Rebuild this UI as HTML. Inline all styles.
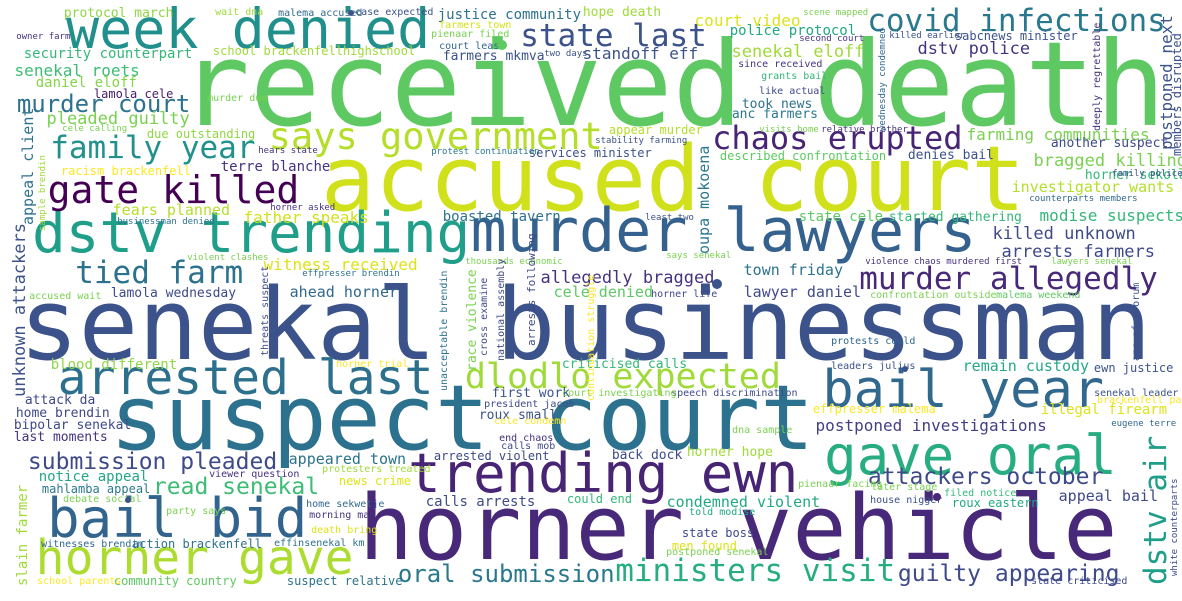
<!DOCTYPE html>
<html><head><meta charset="utf-8"><style>
html,body{margin:0;padding:0;background:#fff;}
#cloud{position:relative;width:1182px;height:601px;overflow:hidden;background:#fff;font-family:"DejaVu Sans Mono","Liberation Mono",monospace;}
#cloud span{position:absolute;white-space:pre;line-height:1;}
#cloud i{position:absolute;border-radius:50%;}
</style></head><body>
<div id="cloud"></div>
<script>
const words=[
"received death","accused court","senekal businessman","suspect court","horner vehicle","week denied","covid infections","murder lawyers","dstv trending","bail year",
"gave oral","trending ewn","bail bid","horner gave","says government","arrested last","gate killed","family year","dlodlo expected","murder allegedly",
"chaos erupted","state last","ministers visit","tied farm","oral submission","murder court","attackers october","guilty appearing","submission pleaded","read senekal",
"senekal roets","pleaded guilty","security counterpart","school brackenfellhighschool","justice community","daniel eloff","due outstanding","terre blanche","fears planned","father speaks",
"witness received","boasted tavern","allegedly bragged","ahead horner","cele denied","lamola cele","racism brackenfell","court video","senekal eloff","dstv police",
"farming communities","bragged killing","investigator wants","modise suspects","killed unknown","arrests farmers","town friday","lawyer daniel","remain custody","postponed investigations",
"illegal firearm","blood different","attack da","home brendin","bipolar senekal","last moments","appeared town","notice appeal","mahlamba appeal","action brackenfell",
"community country","suspect relative","condemned violent","appeal bail","roux eastern","calls arrests","could end","arrested violent","back dock","horner hope",
"state boss","men found","criticised calls","first work","roux small","speech discrimination","protocol march","hope death","farmers mkmva","standoff eff",
"police protocol","sabcnews minister","took news","anc farmers","appear murder","another suspect","described confrontation","denies bail","horner sekola","state cele",
"started gathering","ewn justice","effpresser malema","services minister","lamola wednesday","wait dna","malema accused","case expected","owner farm","farmers town",
"pienaar filed","court least","two days","cele calling","hears state","protest continuation","horner asked","businessman denied","violent clashes","effpresser brendin",
"accused wait","court investigating","president jacob","end chaos","calls mob","dna sample","horner life","protests could","leaders julius","confrontation outside",
"malema weekend","senekal leader","brackenfell pac","eugene terre","news crime","viewer question","protesters treated","home sekwetje","morning man","death bring",
"effinsenekal km","witnesses brendin","debate social","party says","school parents","told modise","postponed senekal","later stage","filed notice","house nigger",
"pienaar facing","state criticised","since received","grants bail","like actual","scene mapped","second court","killed earlier","visits home","relative brother",
"stability farming","least two","family police","counterparts members","lawyers senekal","murdered first","violence chaos","says senekal","murder due","thousands economic",
"cele condemn","horner trial"];
const sizes=[
117,90,99,90,90,55,31,60,56,52,
54,54,54,48,37,48,38,31,35,31,
32,31,31,31,24,24,23,23,23,23,
16,17,14,12,14,14,12,14,15,16,
16,14,17,15,15,12,12,16,17,17,
16,17,15,16,17,17,15,15,15,16,
14,14,13,13,13,13,15,14,12,12,
12,12,15,15,12,14,12,12,13,13,
12,12,13,13,13,10,13,13,13,16,
14,12,13,13,12,13,12,13,13,14,
13,12,12,12,13,10,10,10,9,10,
10,10,9,9,9,9,9,9,9,9,
10,10,10,10,10,10,10,10,10,10,
10,10,10,9,12,10,10,10,10,10,
10,10,10,10,10,10,10,10,10,10,
10,10,10,10,10,9,9,9,9,9,
9,9,9,9,9,9,9,9,10,9,
10,10];
const colors=[
"#5ec962","#d0e11c","#3b528b","#2c728e","#482878","#21908d","#2a788e","#34618d","#1f9e89","#31688e",
"#27ad81","#482475","#32648e","#addc30","#b5de2b","#2d708e","#440154","#21918c","#a0da39","#482878",
"#482475","#3b528b","#27ad81","#2c728e","#2a788e","#2c728e","#3e4a89","#3e4a89","#3e4a89","#3dbc74",
"#3dbc74","#7ad151","#35b779","#a0da39","#2c728e","#86d549","#90d743","#46327e","#b5de2b","#d2e21b",
"#dde318","#2c728e","#46327e","#31688e","#5ec962","#481c6e","#fde725","#dde318","#a0da39","#46337f",
"#7ad151","#7ad151","#b5de2b","#35b779","#3e4a89","#3e4989","#2c728e","#3e4a89","#22a884","#433e85",
"#dde318","#8fd744","#3e4989","#3e4989","#3e4989","#46327e","#2c728e","#22a884","#2a788e","#2c728e",
"#5ec962","#2c728e","#22a884","#3e4989","#22a884","#3e4a89","#35b779","#3e4a89","#3e4a89","#a0da39",
"#3e4989","#dde318","#35b779","#3b528b","#3b528b","#3e4a89","#8fd744","#a0da39","#3b528b","#3b528b",
"#22a884","#3b528b","#2c728e","#2a788e","#b5de2b","#3e4989","#5ec962","#3b528b","#35b779","#5ec962",
"#35b779","#3b528b","#fde725","#3b528b","#3e4a89","#a0da39","#31688e","#3b528b","#46327e","#d2e21b",
"#7ad151","#31688e","#3b528b","#7ad151","#46327e","#2a788e","#46327e","#2c728e","#7ad151","#2c728e",
"#7ad151","#7ad151","#3e4a89","#46327e","#3e4989","#7ad151","#3e4989","#31688e","#3b528b","#7ad151",
"#5ec962","#3b528b","#fde725","#31688e","#dde318","#46327e","#a0da39","#31688e","#46327e","#dde318",
"#2c728e","#31688e","#7ad151","#7ad151","#fde725","#22a884","#7ad151","#7ad151","#35b779","#3b528b",
"#7ad151","#3e4a89","#46327e","#35b779","#3e4989","#7ad151","#46327e","#3b528b","#7ad151","#46327e",
"#3b528b","#3b528b","#3b528b","#31688e","#7ad151","#46327e","#46327e","#7ad151","#7ad151","#7ad151",
"#fde725","#fde725"];
const inkX=[
190,329,28,118,367,71,870,476,37,827,
829,413,52,40,272,62,51,53,468,862,
715,523,618,78,400,19,870,900,30,155,
16,48,25,214,439,37,148,222,114,245,
265,444,542,291,555,95,62,696,733,919,
968,1035,1013,1041,994,1003,745,745,964,817,
1042,52,26,17,15,15,290,40,43,133,
115,288,668,1060,953,427,568,435,613,688,
683,673,563,493,480,672,65,584,444,584,
731,956,743,733,610,1052,721,909,1086,800,
890,1095,814,530,112,216,279,356,17,440,
432,440,545,63,259,432,271,118,188,303,
30,563,485,500,502,733,652,832,832,871,
997,1095,1098,1112,340,210,323,307,310,312,
275,42,64,167,38,690,667,872,945,871,
799,1032,739,762,760,804,800,890,760,822,
596,646,1113,1030,1052,947,866,667,208,466,
495,337];
const baseY=[
125,211,360,450,560,49,32,252,253,408,
475,493,538,575,149,395,203,159,390,290,
149,47,582,284,582,112,485,582,470,495,
77,125,59,55,20,88,138,172,216,224,
271,222,284,298,298,98,175,27,58,55,
141,167,193,222,240,258,276,298,372,432,
415,370,405,418,430,442,465,482,493,548,
585,585,508,502,507,507,503,460,460,457,
537,550,369,398,420,397,18,17,61,60,
36,40,109,119,134,148,160,160,180,222,
222,372,413,157,298,16,17,16,41,29,
38,50,58,133,155,156,212,226,262,278,
300,397,408,442,450,434,298,345,370,299,
299,397,404,428,485,478,473,508,519,534,
547,548,503,515,585,516,556,491,497,504,
488,585,68,80,95,17,43,40,134,134,
145,222,178,203,266,266,266,260,102,266,
425,368];
const cloud=document.getElementById('cloud');
for(let i=0;i<words.length;i++){
  const s=document.createElement('span');
  s.textContent=words[i];
  s.style.fontSize=sizes[i]+'px';
  s.style.color=colors[i];
  s.style.left=(inkX[i]-0.09*sizes[i])+'px';
  s.style.top=(baseY[i]-0.846*sizes[i])+'px';
  
  
  cloud.appendChild(s);
}
const vwords=["dstv air","unknown attackers","appeal client","slain farmer","oupa mokoena","postponed next","members disrupted","deeply regrettable","wednesday condemned","threats suspect","race violence","national assembly","cross examine","unacceptable brendin","arrests following","anc afriforum","continuation struggle","white counterparts","sample brendin"];
const vsizes=[31,17,15,14,15,16,12,10,9,10,13,10,10,10,11,10,10,9,9];
const vcolors=["#1f9e89","#3b528b","#2c728e","#a0da39","#2a788e","#3b528b","#3b528b","#46327e","#31688e","#3e4989","#7ad151","#3e4989","#3e4989","#2c728e","#3e4989","#3b528b","#fde725","#3e4989","#a0da39"];
const vInkX=[1144,13,22,17,698,1160,1172,1094,880,262,467,498,481,441,527,1133,588,1172,40];
const vBottom=[582,395,224,585,253,149,155,130,130,355,370,360,355,390,345,360,400,575,230];
for(let i=0;i<vwords.length;i++){
  const s=document.createElement('span');
  s.textContent=vwords[i];
  s.style.fontSize=vsizes[i]+'px';
  s.style.color=vcolors[i];
  s.style.left=(vInkX[i]-0.086*vsizes[i])+'px';
  s.style.top=(vBottom[i]+0.09*vsizes[i])+'px';
  s.style.transformOrigin='0 0';
  s.style.transform='rotate(-90deg)';
  
  
  cloud.appendChild(s);
}
const dotX=[502,351,717,905,937,128];
const dotY=[45,13,284,369,497,500];
const dotR=[5,3,5,3,4,3];
const dotC=["#5ec962","#3b528b","#3b528b","#3b528b","#482878","#3b528b"];
for(let i=0;i<dotX.length;i++){
  const d=document.createElement('i');
  d.style.left=(dotX[i]-dotR[i])+'px';
  d.style.top=(dotY[i]-dotR[i])+'px';
  d.style.width=(2*dotR[i])+'px';
  d.style.height=(2*dotR[i])+'px';
  d.style.background=dotC[i];
  
  
  cloud.appendChild(d);
}
</script>
</body></html>
